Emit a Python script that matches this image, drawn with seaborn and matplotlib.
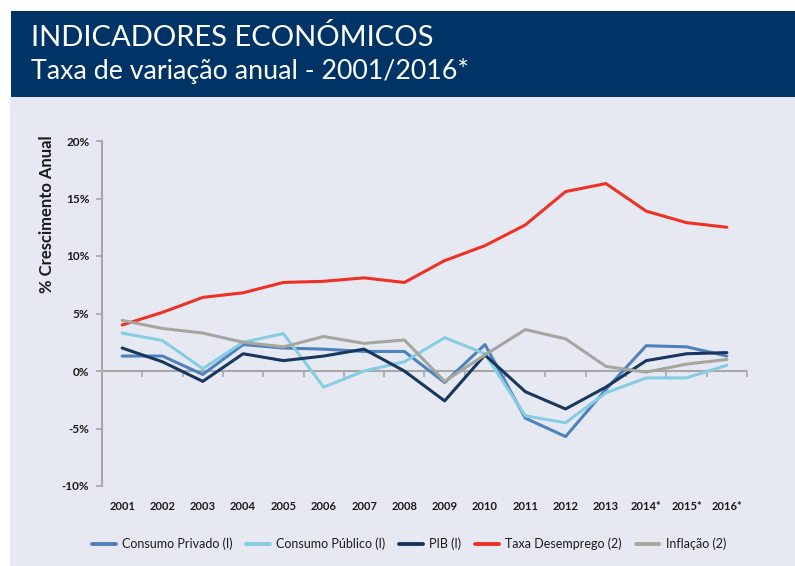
import numpy as np
import pandas as pd
import matplotlib.pyplot as plt
import seaborn as sns
from matplotlib.patches import Rectangle
from matplotlib.ticker import FuncFormatter, NullFormatter

# Dados (taxa de variação anual, %)
anos = ['2001', '2002', '2003', '2004', '2005', '2006', '2007', '2008',
        '2009', '2010', '2011', '2012', '2013', '2014*', '2015*', '2016*']
consumo_privado = [1.3, 1.3, -0.3, 2.3, 2.0, 1.9, 1.7, 1.7, -1.0, 2.3, -4.1, -5.7, -1.6, 2.2, 2.1, 1.3]
consumo_publico = [3.3, 2.65, 0.2, 2.5, 3.25, -1.4, 0.0, 0.8, 2.9, 1.5, -3.9, -4.5, -1.9, -0.6, -0.6, 0.5]
pib = [2.0, 0.8, -0.9, 1.5, 0.9, 1.3, 1.9, 0.0, -2.6, 1.4, -1.8, -3.3, -1.4, 0.9, 1.5, 1.6]
desemprego = [4.0, 5.1, 6.4, 6.8, 7.7, 7.8, 8.1, 7.7, 9.6, 10.9, 12.7, 15.6, 16.3, 13.9, 12.9, 12.5]
inflacao = [4.4, 3.7, 3.3, 2.5, 2.1, 3.0, 2.4, 2.7, -0.9, 1.4, 3.6, 2.8, 0.4, -0.1, 0.6, 1.0]

series = ['Consumo Privado (I)', 'Consumo Público (I)', 'PIB (I)', 'Taxa Desemprego (2)', 'Inflação (2)']
cores = ['#4F81BD', '#86CDE3', '#17375E', '#EE3124', '#A6A6A0']

df = pd.DataFrame({
    'pos': np.arange(len(anos)),
    series[0]: consumo_privado,
    series[1]: consumo_publico,
    series[2]: pib,
    series[3]: desemprego,
    series[4]: inflacao,
})
df = df.melt(id_vars='pos', var_name='serie', value_name='valor')

sns.set_theme(style='white')
plt.rcParams['font.family'] = ['Lato', 'DejaVu Sans']

W, H = 795, 566
fig = plt.figure(figsize=(W / 100, H / 100), dpi=100)
fig.patch.set_facecolor('white')

# painel claro e cabeçalho azul
fig.patches.append(Rectangle((10 / W, 0), 1, 1 - 97 / H, transform=fig.transFigure,
                             facecolor='#E6E9F2', edgecolor='none', zorder=-10))
fig.patches.append(Rectangle((11 / W, 1 - 97 / H), 1, 86 / H, transform=fig.transFigure,
                             facecolor='#003466', edgecolor='none', zorder=-10))
fig.text(31 / W, 1 - 38 / H, 'INDICADORES ECONÓMICOS', color='white', fontsize=21, va='center')
fig.text(31 / W, 1 - 71 / H, 'Taxa de variação anual - 2001/2016*', color='white', fontsize=19.3, va='center')

ax = fig.add_axes([102 / W, 1 - 486 / H, 645 / W, 345 / H])
ax.set_facecolor('none')

sns.lineplot(data=df, x='pos', y='valor', hue='serie', hue_order=series,
             palette=cores, linewidth=2.2, ax=ax, sort=False)

ax.set_xlim(-0.5, len(anos) - 0.5)
ax.set_ylim(-10, 20)
ax.set_yticks(np.arange(-10, 21, 5))
ax.yaxis.set_major_formatter(FuncFormatter(lambda v, p: f'{v:.0f}%'))
ax.set_xticks(np.arange(len(anos)))
ax.set_xticklabels(anos)
ax.set_xlabel('')
ax.set_ylabel('')

for s in ['top', 'right', 'bottom']:
    ax.spines[s].set_visible(False)
ax.spines['left'].set_color('#A8A8A8')
ax.spines['left'].set_linewidth(1.5)

ax.tick_params(axis='x', length=0, pad=11, labelsize=8, labelcolor='#1A1A1A')
ax.tick_params(axis='y', length=4, width=1.2, color='#A8A8A8', direction='out',
               pad=5, labelsize=8.5, labelcolor='#1A1A1A', left=True)
for t in ax.get_xticklabels() + ax.get_yticklabels():
    t.set_fontweight('bold')

# linha do zero com marcas entre categorias
ax.axhline(0, color='#A8A8A8', lw=1.5, zorder=1)
sec = ax.secondary_xaxis(1 / 3)
sec.set_xticks(np.arange(-0.5, len(anos), 1))
sec.xaxis.set_major_formatter(NullFormatter())
sec.xaxis.set_ticks_position('bottom')
sec.tick_params(axis='x', direction='out', length=4, width=1.2, color='#A8A8A8',
                labelbottom=False, labeltop=False)
for s in sec.spines.values():
    s.set_visible(False)

fig.text(47 / W, 1 - 214 / H, '% Crescimento Anual', rotation=90, fontsize=12,
         fontweight='bold', color='#1A1A1A', ha='center', va='center')

leg = ax.legend(loc='center', bbox_to_anchor=(409 / W, 1 - 544 / H), bbox_transform=fig.transFigure,
                ncol=5, frameon=False, fontsize=9, handlelength=1.9, handletextpad=0.5,
                columnspacing=1.1)
for line in leg.get_lines():
    line.set_linewidth(2.8)
for t in leg.get_texts():
    t.set_color('#1A1A1A')

fig.savefig('out.png', dpi=100)
